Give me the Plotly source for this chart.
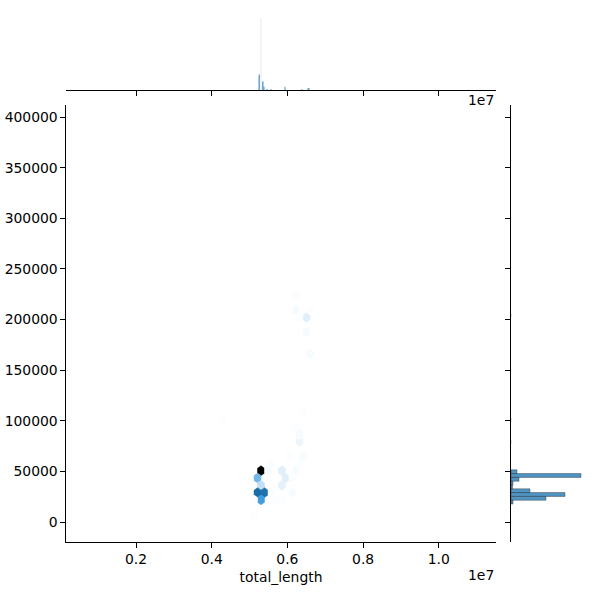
import colorsys
import numpy as np
import plotly.graph_objects as go

# ---------------- data ----------------
# hexbin cells: centre x (total_length), centre y, count
hex_x = [5.3025e6, 5.2100e6, 5.3025e6, 5.2100e6, 5.3950e6, 5.3025e6,
         5.8573e6, 5.9498e6, 5.8573e6, 6.5046e6, 6.3197e6,
         5.4874e6, 6.2272e6, 6.1347e6, 5.5799e6, 6.1347e6, 5.1176e6,
         5.6724e6, 5.1176e6, 5.5799e6, 6.3197e6, 6.0423e6, 6.4121e6,
         6.3197e6, 6.2272e6, 6.4121e6, 4.2853e6, 6.5971e6, 6.5046e6,
         6.3197e6, 6.2272e6, 6.5971e6, 6.2272e6, 5.8573e6]
hex_y = [50669, 43459, 36249, 29039, 29039, 21829,
         50669, 43459, 36249, 202079, 79509,
         50669, 50669, 43459, 29039, 29039, 21829,
         21829, 7409, 57879, 57879, 65089, 65089,
         86719, 93929, 108349, 101139, 166029, 187659,
         202079, 209289, 209289, 223709, 21829]
hex_count = [100, 32, 14, 62, 60, 44,
             7, 7, 6, 7, 4,
             2, 2, 1, 1, 2, 1,
             1, 1, 1, 1, 1, 2,
             2, 1, 1, 1, 2, 2,
             1, 2, 1, 1, 1]

# top marginal histogram (total_length)
top_x = [5.250e6, 5.276e6, 5.303e6, 5.329e6, 5.355e6, 5.382e6, 5.461e6,
         5.567e6, 5.937e6, 6.386e6, 6.544e6, 6.571e6]
top_counts = [14, 15, 15, 8, 8, 3, 1, 1, 3, 1, 2, 2]
spike_x = [5.303e6]
spike_counts = [68]

# right marginal histogram (y variable)
right_y = [19657, 23410, 27163, 30916, 34669, 38422, 42175, 45928, 49681]
right_counts = [2, 35, 54, 19, 1.5, 2, 8, 70, 6]
right_faint_y = [79000, 101000, 204000]
right_faint_counts = [0.8, 0.8, 0.8]

x_tickvals = [2e6, 4e6, 6e6, 8e6, 1e7]
x_ticktext = ["0.2", "0.4", "0.6", "0.8", "1.0"]
y_tickvals = [0, 50000, 100000, 150000, 200000, 250000, 300000, 350000, 400000]
y_ticktext = [str(v) for v in y_tickvals]

# ---------------- styling helpers ----------------
c0 = (31 / 255, 119 / 255, 180 / 255)
h, l, s = colorsys.rgb_to_hls(*c0)
anchors = [colorsys.hls_to_rgb(h, li, s) for li in np.linspace(1, 0, 12)]


def cmap(v):
    v = min(max(v, 0.0), 1.0)
    pos = v * 11
    i = min(int(pos), 10)
    f = pos - i
    rgb = [(1 - f) * a + f * b for a, b in zip(anchors[i], anchors[i + 1])]
    return "rgb(%d,%d,%d)" % tuple(int(round(255 * c)) for c in rgb)


W = 600


def px(xp):
    return xp / W


def py(yp):
    return 1 - yp / W


SX = 184940.0   # hex grid spacing in x (data units)
SY = 14420.0    # hex grid spacing in y (same column)
hex_dx = [0.5, 0.5, 0, -0.5, -0.5, 0, 0.5]
hex_dy = [-0.5, 0.5, 1, 0.5, -0.5, -1, -0.5]

FONT = dict(family="DejaVu Sans", size=13.9, color="black")

fig = go.Figure()

vmax = max(hex_count)
for cx, cy, cnt in zip(hex_x, hex_y, hex_count):
    col = cmap(cnt / vmax)
    fig.add_trace(go.Scatter(
        x=[cx + SX * d for d in hex_dx],
        y=[cy + SY / 3 * d for d in hex_dy],
        mode="lines", fill="toself", fillcolor=col,
        line=dict(color=col, width=0.5),
        hoverinfo="skip", showlegend=False, xaxis="x", yaxis="y"))

bar_fill = "rgba(31,119,180,0.78)"
fig.add_trace(go.Bar(x=top_x, y=top_counts, width=26420,
                     marker=dict(color=bar_fill, line=dict(width=0)),
                     xaxis="x2", yaxis="y2", showlegend=False))
fig.add_trace(go.Bar(x=spike_x, y=spike_counts, width=16000,
                     marker=dict(color="#f2f4f6", line=dict(width=0)),
                     xaxis="x2", yaxis="y2", showlegend=False))
fig.add_trace(go.Bar(y=right_y, x=right_counts, width=3753, orientation="h",
                     marker=dict(color=bar_fill,
                                 line=dict(color="rgba(40,40,40,0.4)", width=1)),
                     xaxis="x3", yaxis="y3", showlegend=False))
fig.add_trace(go.Bar(y=right_faint_y, x=right_faint_counts, width=3753,
                     orientation="h",
                     marker=dict(color="#dde3e8", line=dict(width=0)),
                     xaxis="x3", yaxis="y3", showlegend=False))

xdom = [px(66), px(496)]
ydom = [py(542), py(105)]
xr = [150600, 11511200]
yr = [-19754, 411871]

axis_common = dict(showgrid=False, zeroline=False, showline=True,
                   linecolor="black", linewidth=1.1, ticks="outside",
                   ticklen=4.5, tickwidth=1.1, tickcolor="black",
                   tickfont=FONT, automargin=False)

fig.update_layout(
    width=W, height=W, margin=dict(l=0, r=0, t=0, b=0),
    paper_bgcolor="white", plot_bgcolor="white", barmode="overlay",
    font=FONT,
    xaxis=dict(domain=xdom, range=xr, anchor="y", tickvals=x_tickvals,
               ticktext=x_ticktext,
               title=dict(text="total_length", font=FONT, standoff=6),
               **axis_common),
    yaxis=dict(domain=ydom, range=yr, anchor="x", tickvals=y_tickvals,
               ticktext=y_ticktext, **axis_common),
    xaxis2=dict(domain=xdom, range=xr, anchor="y2", tickvals=x_tickvals,
                showticklabels=False, **axis_common),
    yaxis2=dict(domain=[py(90), py(3)], range=[0, 82], anchor="x2",
                visible=False, automargin=False),
    xaxis3=dict(domain=[px(511), px(597)], range=[0, 86], anchor="y3",
                visible=False, automargin=False),
    yaxis3=dict(domain=ydom, range=yr, anchor="x3", tickvals=y_tickvals,
                showticklabels=False, **axis_common),
)

fig.add_annotation(text="1e7", xref="paper", yref="paper",
                   x=px(496), y=py(100), xanchor="right", yanchor="middle",
                   showarrow=False, font=FONT)
fig.add_annotation(text="1e7", xref="paper", yref="paper",
                   x=px(496), y=py(575), xanchor="right", yanchor="middle",
                   showarrow=False, font=FONT)

fig.write_html("out.html",
               config={"displayModeBar": False},
               post_script="document.body.style.margin='0px';"
                           "document.body.style.overflow='hidden';")
